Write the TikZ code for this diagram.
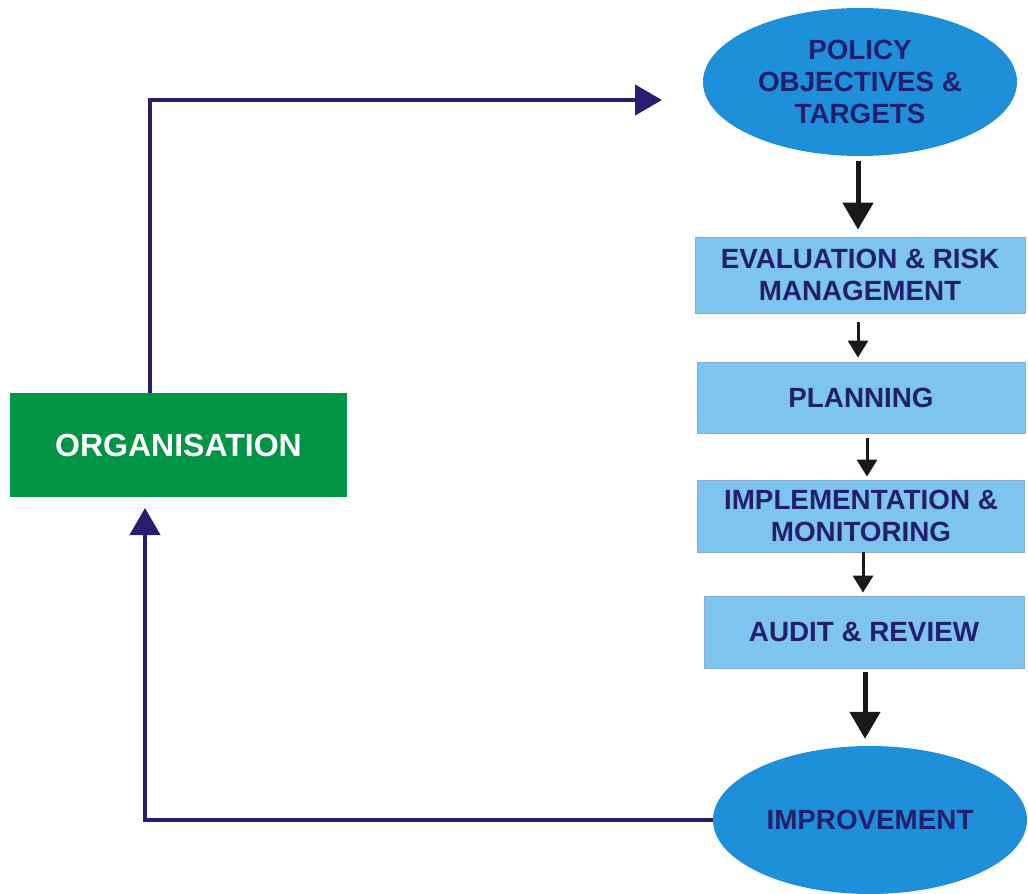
\documentclass[tikz,border=0pt]{standalone}
\usepackage{fontspec}
\setmainfont{Liberation Sans}
\usetikzlibrary{shapes.geometric,arrows.meta}
\definecolor{orggreen}{RGB}{0,148,68}
\definecolor{ellblue}{RGB}{30,144,218}
\definecolor{boxblue}{RGB}{125,196,238}
\definecolor{boxedge}{RGB}{130,175,210}
\definecolor{navytext}{RGB}{35,31,110}
\definecolor{connavy}{RGB}{42,28,110}
\definecolor{arrblack}{RGB}{25,25,25}
\tikzset{
  ellnode/.style={ellipse, fill=ellblue, draw=none, minimum width=314pt, minimum height=148pt, inner sep=0pt,
    text=navytext, font=\fontsize{27.8}{32}\selectfont\bfseries, align=center},
  stepbox/.style={rectangle, fill=boxblue, draw=boxedge, line width=0.8pt, inner sep=0pt,
    text=navytext, font=\fontsize{27.8}{32}\selectfont\bfseries, align=center},
  orgbox/.style={rectangle, fill=orggreen, draw=none, inner sep=0pt, minimum width=337pt, minimum height=104pt,
    text=white, font=\fontsize{32}{36}\selectfont\bfseries},
  conn/.style={draw=connavy, line width=4.5pt, -{Triangle[width=30pt,length=27pt]}},
  bigarrow/.style={draw=arrblack, line width=5pt, -{Triangle[width=30pt,length=27pt]}},
  smallarrow/.style={draw=arrblack, line width=3pt, -{Triangle[width=20pt,length=17pt]}}
}
\begin{document}
\begin{tikzpicture}[x=1pt,y=-1pt]
\useasboundingbox (0,0) rectangle (1028,894);
\fill[white] (0,0) rectangle (1028,894);

\node[ellnode] (pol) at (860,82) {POLICY\\OBJECTIVES \&\\TARGETS};
\node[stepbox, minimum width=330pt, minimum height=76pt] (eval) at (860,275) {EVALUATION \& RISK\\MANAGEMENT};
\node[stepbox, minimum width=328pt, minimum height=71pt] (plan) at (861,397.5) {PLANNING};
\node[stepbox, minimum width=327pt, minimum height=72pt] (impl) at (861,516) {IMPLEMENTATION \&\\MONITORING};
\node[stepbox, minimum width=320pt, minimum height=72pt] (audit) at (864,632) {AUDIT \& REVIEW};
\node[ellnode] (imp) at (870,820) {IMPROVEMENT};
\node[orgbox] (org) at (178.5,445) {ORGANISATION};

\coordinate (polin) at (662,100);
\coordinate (orgin) at (145,508);

\draw[bigarrow, shorten <=5pt, shorten >=7pt] (pol.south -| 858,0) -- (eval.north -| 858,0);
\draw[smallarrow, shorten <=9pt, shorten >=4pt] (eval.south -| 858,0) -- (plan.north -| 858,0);
\draw[smallarrow, shorten <=5pt, shorten >=3pt] (plan.south -| 867,0) -- (impl.north -| 867,0);
\draw[smallarrow, shorten <=0pt, shorten >=3pt] (impl.south -| 863,0) -- (audit.north -| 863,0);
\draw[bigarrow, shorten <=4pt, shorten >=7pt] (audit.south -| 865,0) -- (imp.north -| 865,0);

\draw[conn] (org.north -| 150,0) |- (polin);
\draw[conn] (imp.west) -| (orgin);
\end{tikzpicture}
\end{document}
